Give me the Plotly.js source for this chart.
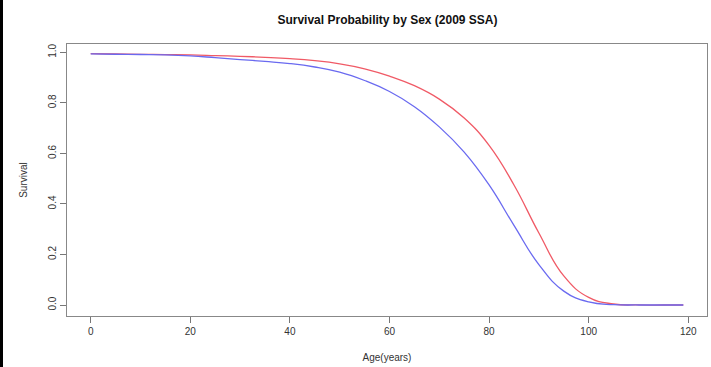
<!DOCTYPE html>
<html>
<head>
<meta charset="utf-8">
<script src="https://cdn.plot.ly/plotly-3.0.1.min.js"></script>
<style>
html,body{margin:0;padding:0;background:#fff;}
#wrap{position:relative;width:711px;height:367px;}
#chart{width:711px;height:367px;}
#edge{position:absolute;left:0;top:0;width:3px;height:367px;background:#000;}
</style>
</head>
<body>
<div id="wrap"><div id="chart"></div><div id="edge"></div></div>
<script>
const ages = [0,5,10,15,20,25,30,35,40,45,50,55,60,65,70,75,80,85,90,95,100,105,110,115,119];
const male = [0.9936,0.9925,0.9915,0.9900,0.9860,0.9790,0.9715,0.9640,0.9555,0.9420,0.9215,0.8885,0.8450,0.7850,0.7050,0.6050,0.4750,0.3150,0.1600,0.0550,0.0120,0.0015,0.0001,0,0];
const female = [0.9947,0.9935,0.9923,0.9913,0.9900,0.9873,0.9843,0.9803,0.9750,0.9670,0.9545,0.9350,0.9060,0.8680,0.8150,0.7400,0.6320,0.4750,0.2850,0.1150,0.0300,0.0040,0.0002,0,0];
const xTicks = [0,20,40,60,80,100,120];
const yTicks = [0,0.2,0.4,0.6,0.8,1.0];
const yTickText = ['0.0','0.2','0.4','0.6','0.8','1.0'];

const font = 'Liberation Sans, Arial, Helvetica, sans-serif';
const traces = [
  {x: ages, y: female, mode:'lines', line:{color:'#f05a66', width:1.3, shape:'spline', smoothing:1.3}, name:'Female'},
  {x: ages, y: male, mode:'lines', line:{color:'#6a6af0', width:1.3, shape:'spline', smoothing:1.3}, name:'Male'}
];
const layout = {
  width:711, height:367,
  margin:{l:67, r:4, t:44, b:51},
  paper_bgcolor:'#fff', plot_bgcolor:'#fff',
  showlegend:false,
  font:{family:font, size:10, color:'#333'},
  title:{text:'<b>Survival Probability by Sex (2009 SSA)</b>', font:{family:font, size:12, color:'#111'}, x:0.545, xanchor:'center', y:0.945, yanchor:'middle', yref:'container'},
  xaxis:{range:[-4.76,123.76], tickvals:xTicks, ticks:'outside', ticklen:6, tickcolor:'#777', showgrid:false, zeroline:false,
         showline:true, mirror:true, linecolor:'#888', linewidth:1.3,
         tickfont:{family:font,size:10,color:'#333'},
         title:{text:'Age(years)', font:{family:font,size:10,color:'#333'}, standoff:17}},
  yaxis:{range:[-0.0435,1.033], tickvals:yTicks, ticktext:yTickText, tickangle:-90, ticks:'outside', ticklen:6, tickcolor:'#777', showgrid:false, zeroline:false,
         showline:true, mirror:true, linecolor:'#888', linewidth:1.3,
         tickfont:{family:font,size:10,color:'#333'},
         title:{text:'Survival', font:{family:font,size:10,color:'#333'}, standoff:17}}
};
Plotly.newPlot('chart', traces, layout, {staticPlot:true, displayModeBar:false});
</script>
</body>
</html>
